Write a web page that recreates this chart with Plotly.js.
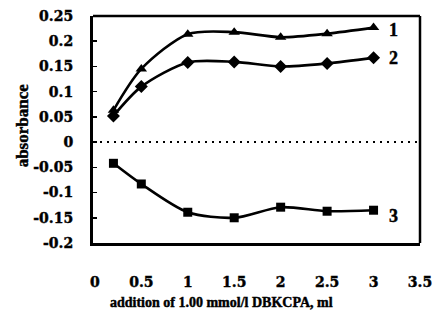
<!DOCTYPE html>
<html>
<head>
<meta charset="utf-8">
<script src="https://cdn.plot.ly/plotly-3.0.1.min.js"></script>
<style>
html,body{margin:0;padding:0;background:#fff;}
#chart{width:436px;height:320px;}
#chart svg text{stroke:#000;stroke-width:0.45px;}
</style>
</head>
<body>
<div id="chart"></div>
<script>
var xValues = [0.2, 0.5, 1, 1.5, 2, 2.5, 3];
var series1 = [0.063, 0.145, 0.214, 0.218, 0.208, 0.215, 0.227];
var series2 = [0.052, 0.110, 0.158, 0.159, 0.150, 0.156, 0.167];
var series3 = [-0.042, -0.083, -0.139, -0.150, -0.129, -0.137, -0.135];
var seriesLabels = ["1", "2", "3"];
var xTickVals = [0, 0.5, 1, 1.5, 2, 2.5, 3, 3.5];
var xTickText = ["0", "0.5", "1", "1.5", "2", "2.5", "3", "3.5"];
var yTickVals = [0.25, 0.2, 0.15, 0.1, 0.05, 0, -0.05, -0.1, -0.15, -0.2];
var yTickText = ["0.25", "0.2", "0.15", "0.1", "0.05", "0", "-0.05", "-0.1", "-0.15", "-0.2"];
var xTitle = "addition of 1.00 mmol/l DBKCPA, ml";
var yTitle = "absorbance";

var serif = "Liberation Serif";
var tickSerif = "DejaVu Serif";
function mk(y, sym, size) {
  return {
    x: xValues, y: y, type: "scatter", mode: "lines+markers",
    line: {color: "#000", width: 2.6, shape: "spline", smoothing: 0.8},
    marker: {symbol: sym, size: size, color: "#000"},
    showlegend: false, hoverinfo: "none"
  };
}
var data = [
  mk(series1, "triangle-up", 10),
  mk(series2, "diamond", 10),
  mk(series3, "square", 9)
];
var lastY = [series1[6], series2[6], series3[6]];
var labelOffsets = [-0.004, -0.001, -0.011];
var annotations = seriesLabels.map(function (t, i) {
  return {x: 3.22, y: lastY[i] + labelOffsets[i], xref: "x", yref: "y", text: "<b>" + t + "</b>",
    showarrow: false, font: {family: serif, size: 18, color: "#000"}};
});
annotations.push({x: 0.393, y: -0.304, xref: "paper", yref: "paper", text: "<b>" + xTitle + "</b>",
  showarrow: false, font: {family: serif, size: 14, color: "#000"}});
annotations.push({x: -0.248, y: 0.52, xref: "paper", yref: "paper", text: "<b>" + yTitle + "</b>", textangle: -90,
  showarrow: false, font: {family: serif, size: 17, color: "#000"}});

var boldX = xTickText.map(function (t) { return "<b>" + t + "</b>"; });
var boldY = yTickText.map(function (t) { return "<b>" + t + "</b>"; });

var layout = {
  width: 436, height: 320,
  margin: {l: 93, r: 16, t: 16, b: 77},
  paper_bgcolor: "#fff", plot_bgcolor: "#fff",
  xaxis: {
    range: [-0.02, 3.5], showgrid: false, zeroline: false,
    tickvals: xTickVals, ticktext: boldX, ticks: "",
    showline: true, linecolor: "#000", linewidth: 3,
    ticklabelstandoff: 24,
    tickfont: {family: tickSerif, size: 14, color: "#000"}
  },
  yaxis: {
    range: [-0.2, 0.25], showgrid: false, zeroline: false,
    tickvals: yTickVals, ticktext: boldY, ticks: "inside", ticklen: 4, tickwidth: 1.5, tickcolor: "#000",
    showline: true, linecolor: "#000", linewidth: 3,
    ticklabelstandoff: 14,
    tickfont: {family: tickSerif, size: 14, color: "#000"}
  },
  shapes: [
    {type: "line", xref: "paper", yref: "paper", x0: 0, x1: 1, y0: 1, y1: 1, line: {color: "#000", width: 2.5}},
    {type: "line", xref: "paper", yref: "paper", x0: 1, x1: 1, y0: 0, y1: 1, line: {color: "#000", width: 2.5}},
    {type: "line", xref: "paper", yref: "y", x0: 0, x1: 1, y0: 0, y1: 0, line: {color: "#000", width: 2, dash: "2px,5px"}}
  ],
  annotations: annotations
};
Plotly.newPlot("chart", data, layout, {displayModeBar: false, staticPlot: true});
</script>
</body>
</html>
